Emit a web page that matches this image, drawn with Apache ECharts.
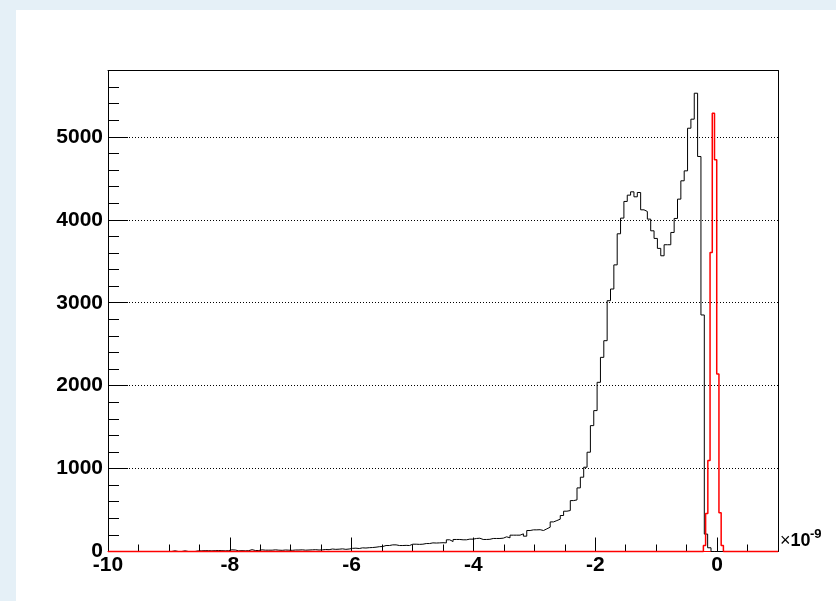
<!DOCTYPE html>
<html><head><meta charset="utf-8">
<script src="https://cdn.jsdelivr.net/npm/echarts@6/dist/echarts.min.js"></script>
<style>
html,body{margin:0;padding:0;background:#e5f0f7;width:836px;height:601px;overflow:hidden}
#pad{position:absolute;left:16px;top:10px;width:820px;height:591px;background:#fff}
</style>
</head><body><div id="pad"></div>
<script>
// Histogram layout (x in units of 1e-9)
const xMin = -10, xMax = 1, nBins = 200;
const yMin = 0, yMax = 5800;
const xLabelStep = 2, yLabelStep = 1000;

// Black histogram: 200 bins over [-10, 1]
const blackCounts = [
  0,0,0,0,0,0,0,0,0,0,
  0,0,0,0,0,0,0,0,0,8,
  0,0,8,0,0,0,8,8,10,10,
  8,10,12,10,8,10,20,18,8,10,
  8,10,22,12,12,20,16,16,16,20,
  16,14,18,16,14,18,18,20,16,18,
  20,22,18,20,24,22,30,26,28,32,
  26,30,38,40,36,44,42,46,48,52,
  58,60,72,72,80,80,72,72,74,72,
  88,88,86,88,96,96,104,102,104,106,
  104,141,120,145,145,141,141,149,149,157,
  160,145,145,147,157,157,157,161,177,165,
  197,197,197,213,185,253,261,261,263,253,
  273,293,357,373,390,434,486,494,614,622,
  767,896,1016,1197,1518,1699,2040,2341,2542,3024,
  3165,3456,3831,4020,4221,4297,4337,4277,4329,4120,
  4100,4008,3867,3775,3655,3566,3699,3699,3847,4016,
  4249,4470,4590,5104,5213,5526,4763,2852,210,45,
  0,0,0,0,0,0,0,0,0,0,
  0,0,0,0,0,0,0,0,0,0
];

// Red histogram: narrow peak near 0 (non-empty bins only)
const redLow = -0.225, redBinWidth = 0.0365;
const redCounts = [72, 457, 1096, 3606, 5285, 4723, 2141, 466, 72];

// Build step data from bin edges
const bw = (xMax - xMin) / nBins;
const blackData = blackCounts.map((c, i) => [xMin + i * bw, c]);
blackData.push([xMax, 0]);

const redData = [[xMin, 0]];
redCounts.forEach((c, i) => redData.push([redLow + i * redBinWidth, c]));
redData.push([redLow + redCounts.length * redBinWidth, 0]);
redData.push([xMax, 0]);

const FONT = '"Liberation Sans", Arial, Helvetica, sans-serif';

const chart = echarts.init(document.getElementById('pad'), null, {renderer: 'canvas'});
chart.setOption({
  animation: false,
  backgroundColor: '#ffffff',
  grid: {left: 92, top: 60.5, width: 670, height: 481, show: false},
  xAxis: [{
    type: 'value', min: xMin, max: xMax, interval: xLabelStep, position: 'bottom', z: 0,
    axisLine: {show: true, onZero: false, lineStyle: {color: '#ff0000', width: 1}},
    axisTick: {show: true, inside: true, length: 14, lineStyle: {color: '#000'}},
    minorTick: {show: true, splitNumber: 4, length: 7, lineStyle: {color: '#000'}},
    splitLine: {show: false},
    axisLabel: {
      color: '#000', fontSize: 21, fontWeight: 'bold', fontFamily: FONT, margin: 3,
      formatter: v => (Math.abs(v % xLabelStep) < 1e-9 ? String(v) : '')
    }
  }, {
    type: 'value', min: xMin, max: xMax, position: 'top', z: 0,
    axisLine: {show: true, onZero: false, lineStyle: {color: '#000', width: 1}},
    axisTick: {show: false}, axisLabel: {show: false}, splitLine: {show: false}
  }],
  yAxis: [{
    type: 'value', min: yMin, max: yMax, interval: yLabelStep, position: 'left', z: 0,
    axisLine: {show: true, onZero: false, lineStyle: {color: '#000', width: 1}},
    axisTick: {show: true, inside: true, length: 20, lineStyle: {color: '#000'}},
    minorTick: {show: true, splitNumber: 5, length: 11, lineStyle: {color: '#000'}},
    splitLine: {show: true, showMinLine: false, showMaxLine: false,
                lineStyle: {color: '#000', width: 1, type: [1, 2]}},
    axisLabel: {
      color: '#000', fontSize: 21, fontWeight: 'bold', fontFamily: FONT, margin: 5,
      formatter: v => (v % yLabelStep === 0 ? String(v) : '')
    }
  }, {
    type: 'value', min: yMin, max: yMax, position: 'right', z: 0,
    axisLine: {show: true, onZero: false, lineStyle: {color: '#000', width: 1}},
    axisTick: {show: false}, axisLabel: {show: false}, splitLine: {show: false}
  }],
  series: [
    {type: 'line', step: 'end', data: blackData, showSymbol: false, symbol: 'none',
     xAxisIndex: 0, yAxisIndex: 0,
     clip: false, lineStyle: {color: '#000', width: 1}, z: 5},
    {type: 'line', step: 'end', data: redData, showSymbol: false, symbol: 'none',
     xAxisIndex: 0, yAxisIndex: 0, zlevel: 1,
     clip: false, lineStyle: {color: '#ff0000', width: 1.5}, z: 6}
  ],
  graphic: [
    {type: 'text', x: 764, y: 522, z: 100,
     style: {text: '{m|×}{n|10}', fontSize: 18, fontFamily: FONT, fill: '#000',
       rich: {
         m: {fontSize: 18, fontFamily: FONT, fontWeight: 'normal', fill: '#000'},
         n: {fontSize: 18, fontFamily: FONT, fontWeight: 'bold', fill: '#000'}}}},
    {type: 'text', x: 794, y: 518, z: 100,
     style: {text: '-9', fontSize: 13, fontFamily: FONT, fontWeight: 'bold', fill: '#000'}}
  ]
});
</script>
</body></html>
